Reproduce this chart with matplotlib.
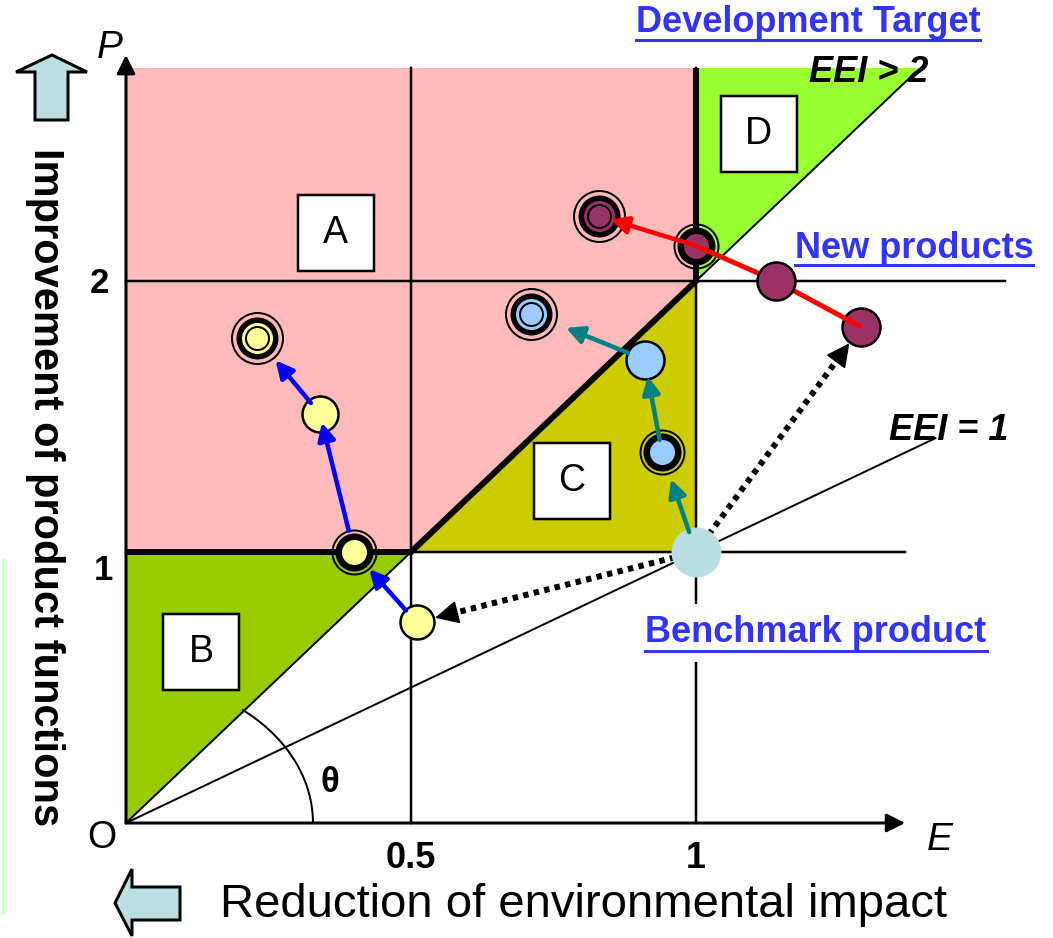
import numpy as np
import matplotlib
matplotlib.use("Agg")
import matplotlib.pyplot as plt
from matplotlib.patches import Polygon, Rectangle
from matplotlib.lines import Line2D

plt.rcParams['font.family'] = ['Liberation Sans', 'DejaVu Sans']

# ---- values (E = environmental impact, P = product function)
bench_E, bench_P = 1.0, 1.0
yellow_E = [0.51, 0.40, 0.34, 0.23]
yellow_P = [0.74, 1.00, 1.51, 1.79]
blue_E = [0.94, 0.91, 0.71]
blue_P = [1.37, 1.71, 1.88]
maroon_E = [1.29, 1.14, 1.00, 0.83]
maroon_P = [1.83, 2.00, 2.13, 2.24]
e_ticks = [0.5, 1]
p_ticks = [1, 2]
e_labels = ['0.5', '1']
p_labels = ['1', '2']
region_names = ['A', 'B', 'C', 'D']

PX_E, PX_P = 570.0, 271.0        # pixels per unit
P_TOP = 2.786
pink, olive, bgreen, lgreen = '#ffbbbb', '#cccc00', '#99cc00', '#99ff33'
c_yel, c_blu, c_mar, c_bench = '#ffff99', '#99ccff', '#993366', '#b8dde2'
link = '#3333ff'

fig = plt.figure(figsize=(10.53, 9.38), dpi=100)
ax = fig.add_axes([0, 0, 1, 1])
ax.set_xlim(-126 / PX_E, (1053 - 126) / PX_E)
ax.set_ylim((823 - 938) / PX_P, 823 / PX_P)
ax.axis('off')

deco = fig.add_axes([0, 0, 1, 1])
deco.set_xlim(0, 1053)
deco.set_ylim(938, 0)
deco.axis('off')
deco.patch.set_alpha(0)

def pt(px):
    return px * 0.72

# regions
ax.add_patch(Rectangle((0, 1), 1, P_TOP - 1, fc=pink, ec='none', zorder=1))
ax.add_patch(Polygon([(0.5, 1), (1, 1), (1, 2)], fc=olive, ec='none', zorder=2))
ax.add_patch(Polygon([(0, 0), (0, 1), (0.5, 1)], fc=bgreen, ec='none', zorder=2))
ax.add_patch(Polygon([(1, 2), (1, P_TOP), (P_TOP / 2, P_TOP)], fc=lgreen, ec='none', zorder=2))

# grid lines
for e in e_ticks:
    ax.plot([e, e], [0, P_TOP], color='k', lw=pt(2.5), zorder=3)
ax.plot([0, 1.367], [1, 1], color='k', lw=pt(2.5), zorder=3)
ax.plot([0, 1.542], [2, 2], color='k', lw=pt(2.5), zorder=3)

# EEI lines
ax.plot([0, 1.42], [0, 1.42], color='k', lw=pt(2), zorder=3)
ax.plot([0, P_TOP / 2 - 0.01], [0, P_TOP - 0.02], color='k', lw=pt(2), zorder=3)

# thick border of region A
ax.plot([0, 0.5, 1, 1], [1, 1, 2, P_TOP], color='k', lw=pt(6), zorder=4,
        solid_joinstyle='miter', solid_capstyle='butt')

# axes arrows
for xy in [(1.367, 0), (0, 2.834)]:
    ax.annotate('', xy=xy, xytext=(0, 0),
                arrowprops=dict(arrowstyle='-|>', lw=pt(3), color='k',
                                mutation_scale=28, shrinkA=0, shrinkB=0), zorder=4)

# theta arc
a, b = 0.328, 0.534
t = np.linspace(0, np.arccos(0.205 / a), 60)
ax.plot(a * np.cos(t), b * np.sin(t), color='k', lw=pt(2), zorder=3)

# region boxes
box_pos = [(0.368, 2.177), (0.132, 0.631), (0.782, 1.262), (1.11, 2.542)]
bw, bh = 76 / PX_E, 76 / PX_P
for name, (e, p) in zip(region_names, box_pos):
    ax.add_patch(Rectangle((e - bw / 2, p - bh / 2), bw, bh, fc='white', ec='k',
                           lw=pt(2.5), zorder=5))
    ax.text(e, p, name, fontsize=27, ha='center', va='center', zorder=6)


# dotted arrows from benchmark: dotted shaft + solid head
def dotted(e1, p1, r_px, head_px=20):
    dx, dy = (e1 - bench_E) * PX_E, (p1 - bench_P) * PX_P
    d = np.hypot(dx, dy)
    f_tip, f_base = r_px / d, (r_px + head_px) / d
    tip = (e1 - (e1 - bench_E) * f_tip, p1 - (p1 - bench_P) * f_tip)
    base = (e1 - (e1 - bench_E) * f_base, p1 - (p1 - bench_P) * f_base)
    ax.plot([bench_E, base[0]], [bench_P, base[1]], color='k', lw=pt(6),
            ls=(0, (0.9, 0.9)), dash_capstyle='butt', zorder=5)
    ax.annotate('', xy=tip, xytext=base,
                arrowprops=dict(arrowstyle='-|>', lw=pt(2), color='k',
                                mutation_scale=pt(head_px) / 0.4, shrinkA=0, shrinkB=0),
                zorder=5)


dotted(yellow_E[0], yellow_P[0], 19)
dotted(maroon_E[0], maroon_P[0], 20)

ax.plot(bench_E, bench_P, 'o', ms=pt(50), mfc=c_bench, mec='none', zorder=6)


def plain(e, p, c, r=18, z=7):
    ax.plot(e, p, 'o', ms=pt(2 * r), mfc=c, mec='k', mew=pt(2.5), zorder=z)


def ringed(e, p, c):
    ax.plot(e, p, 'o', ms=pt(44), mfc='none', mec='k', mew=pt(2), zorder=7)
    ax.plot(e, p, 'o', ms=pt(38), mfc='k', mec='none', zorder=7)
    ax.plot(e, p, 'o', ms=pt(25), mfc=c, mec='none', zorder=8)


def target(e, p, c):
    ax.plot(e, p, 'o', ms=pt(51), mfc='none', mec='k', mew=pt(2), zorder=7)
    ax.plot(e, p, 'o', ms=pt(42), mfc='k', mec='none', zorder=7)
    ax.plot(e, p, 'o', ms=pt(31), mfc=c, mec='none', zorder=8)
    ax.plot(e, p, 'o', ms=pt(23), mfc=c, mec='k', mew=pt(2), zorder=8)


def arrow(p0, p1, c, sa, sb):
    ax.annotate('', xy=p1, xytext=p0,
                arrowprops=dict(arrowstyle='-|>', lw=pt(4.5), color=c,
                                mutation_scale=26, shrinkA=pt(sa), shrinkB=pt(sb)), zorder=9)

# yellow series
plain(yellow_E[0], yellow_P[0], c_yel, 17)
ringed(yellow_E[1], yellow_P[1], c_yel)
plain(yellow_E[2], yellow_P[2], c_yel, 18)
target(yellow_E[3], yellow_P[3], c_yel)
yel = list(zip(yellow_E, yellow_P))
arrow(yel[0], yel[1], '#0000ff', 16, 23)
arrow(yel[1], yel[2], '#0000ff', 22, 9)
arrow(yel[2], yel[3], '#0000ff', 14, 29)

# blue series
ringed(blue_E[0], blue_P[0], c_blu)
plain(blue_E[1], blue_P[1], c_blu, 19)
target(blue_E[2], blue_P[2], c_blu)
blu = [(bench_E, bench_P)] + list(zip(blue_E, blue_P))
arrow(blu[0], blu[1], '#008080', 21, 29)
arrow(blu[1], blu[2], '#008080', 12, 17)
arrow(blu[2], blu[3], '#008080', 18, 38)

# maroon series
plain(maroon_E[0], maroon_P[0], c_mar, 19)
plain(maroon_E[1], maroon_P[1], c_mar, 19, z=10)
ringed(maroon_E[2], maroon_P[2], c_mar)
target(maroon_E[3], maroon_P[3], c_mar)
ax.plot(maroon_E[:3], maroon_P[:3], color='#ff0000', lw=pt(5), zorder=9,
        solid_capstyle='butt')
arrow((maroon_E[2], maroon_P[2]), (maroon_E[3], maroon_P[3]), '#ff0000', 0, 12)

# tick labels
for e, lab in zip(e_ticks, e_labels):
    ax.text(e, -0.13, lab, fontsize=26, fontweight='bold', ha='center', va='center')
ax.text(-0.04, p_ticks[0] - 0.07, p_labels[0], fontsize=25, fontweight='bold',
        ha='center', va='center')
ax.text(-0.047, p_ticks[1] - 0.01, p_labels[1], fontsize=25, fontweight='bold',
        ha='center', va='center')

# axis letters
deco.text(110, 48, 'P', fontsize=28, style='italic', ha='center', va='center')
deco.text(940, 840, 'E', fontsize=28, style='italic', ha='center', va='center')
deco.text(102, 838, 'O', fontsize=27, ha='center', va='center')
deco.text(330, 782, 'θ', fontsize=25, fontweight='bold', ha='center', va='center')
deco.text(869, 72, 'EEI > 2', fontsize=26, fontweight='bold', style='italic',
          ha='center', va='center')
deco.text(949, 430, 'EEI = 1', fontsize=26, fontweight='bold', style='italic',
          ha='center', va='center')

# axis titles and block arrows
deco.text(45, 487, 'Improvement of product functions', fontsize=30, fontweight='bold',
          rotation=270, ha='center', va='center')
deco.text(584, 905, 'Reduction of environmental impact', fontsize=34,
          ha='center', va='center')
deco.add_patch(Polygon([(52, 55), (87, 72), (68, 72), (68, 120), (35, 120), (35, 72), (16, 72)],
                       fc='#bcdfe3', ec='k', lw=pt(3), joinstyle='miter'))
deco.add_patch(Polygon([(115, 903), (132, 869), (132, 887), (180, 887), (180, 920),
                        (132, 920), (132, 936)], fc='#bcdfe3', ec='k', lw=pt(3),
                       joinstyle='miter'))
deco.plot([3, 3], [560, 913], color='#ccffcc', lw=pt(3))

# blue underlined captions
links = [
    deco.text(808, 22, 'Development Target', fontsize=26, fontweight='bold', color=link,
              ha='center', va='center'),
    deco.text(914, 248, 'New products', fontsize=26, fontweight='bold', color=link,
              ha='center', va='center'),
    deco.text(816, 633, 'Benchmark product', fontsize=26, fontweight='bold', color=link,
              ha='center', va='center', zorder=10,
              bbox=dict(fc='white', ec='none', pad=8)),
]
fig.canvas.draw()
inv = fig.transFigure.inverted()
for txt in links:
    bb = txt.get_window_extent().transformed(inv)
    fig.add_artist(Line2D([bb.x0, bb.x1], [bb.y0, bb.y0], color=link, lw=pt(3),
                          transform=fig.transFigure, zorder=11))

fig.savefig('out.png', dpi=100)
